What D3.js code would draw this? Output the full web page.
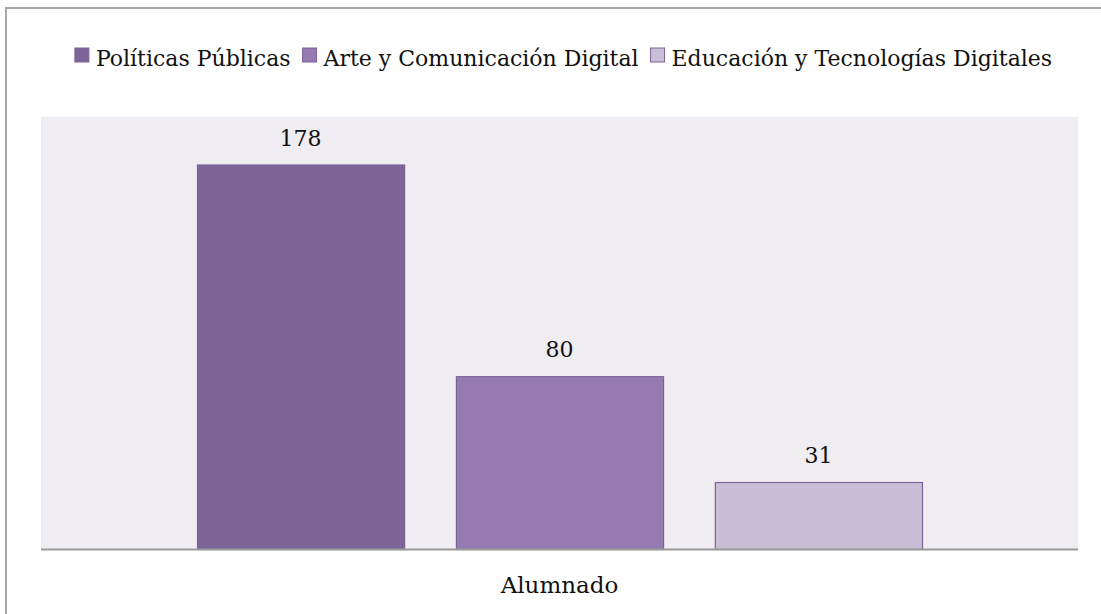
<!DOCTYPE html>
<html>
<head>
<meta charset="utf-8">
<script src="https://cdn.jsdelivr.net/npm/d3@7"></script>
<style>
	body { margin: 0; background: #fff; }
</style>
</head>
<body>
<script>
// data
var series = ["Políticas Públicas", "Arte y Comunicación Digital", "Educación y Tecnologías Digitales"];
var values = [178, 80, 31];
var category = "Alumnado";
var colors = ["#7e6597", "#967bb2", "#c8bfd6"];

var width = 1101,
	height = 614,
	font = "'DejaVu Serif', 'Liberation Serif', serif";

var plot = { left: 41, right: 1078, top: 117, bottom: 549 };

var svg = d3.select("body").append("svg")
	.attr("width", width)
	.attr("height", height)
	.style("font-family", font);

// outer frame
svg.append("rect")
	.attr("x", 6)
	.attr("y", 8)
	.attr("width", width)
	.attr("height", height)
	.attr("fill", "#fff")
	.attr("stroke", "#a6a6a6")
	.attr("stroke-width", 2);

// plot background
svg.append("rect")
	.attr("x", plot.left)
	.attr("y", plot.top)
	.attr("width", plot.right - plot.left)
	.attr("height", plot.bottom - plot.top)
	.attr("fill", "#efecf2");

var x = d3.scaleBand()
	.domain(series)
	.range([plot.left + 156, plot.right - 156])
	.paddingInner(0.2);

var y = d3.scaleLinear()
	.domain([0, 200])
	.range([plot.bottom, plot.top]);

var bars = svg.selectAll(".bar")
	.data(values)
	.enter()
	.append("g")
	.attr("class", "bar");

bars.append("rect")
	.attr("x", function(d, i) { return x(series[i]) + 0.5; })
	.attr("y", function(d) { return y(d) + 0.5; })
	.attr("width", x.bandwidth())
	.attr("height", function(d) { return plot.bottom - y(d); })
	.attr("fill", function(d, i) { return colors[i]; })
	.attr("stroke", "#7a6398")
	.attr("stroke-width", 1.2);

bars.append("text")
	.attr("x", function(d, i) { return x(series[i]) + x.bandwidth() / 2; })
	.attr("y", function(d) { return y(d) - 19; })
	.attr("text-anchor", "middle")
	.attr("font-family", font)
	.attr("font-size", "22px")
	.attr("fill", "#111")
	.text(function(d) { return d; });

// x axis line
svg.append("line")
	.attr("x1", plot.left)
	.attr("x2", plot.right)
	.attr("y1", plot.bottom + 0.5)
	.attr("y2", plot.bottom + 0.5)
	.attr("stroke", "#9a9a9a")
	.attr("stroke-width", 2);

svg.append("text")
	.attr("x", (plot.left + plot.right) / 2)
	.attr("y", 593)
	.attr("text-anchor", "middle")
	.attr("font-family", font)
	.attr("font-size", "23px")
	.attr("fill", "#111")
	.text(category);

// legend, measured then centred
var legend = svg.append("g");
var items = legend.selectAll(".item")
	.data(series)
	.enter()
	.append("g")
	.attr("class", "item");

items.append("rect")
	.attr("y", 48)
	.attr("width", 14)
	.attr("height", 14)
	.attr("fill", function(d, i) { return colors[i]; })
	.attr("stroke", "#7a6398")
	.attr("stroke-width", 1);

items.append("text")
	.attr("x", 21)
	.attr("y", 66)
	.attr("font-family", font)
	.attr("font-size", "22px")
	.attr("fill", "#111")
	.text(function(d) { return d; });

var pos = 0;
items.each(function() {
	var w = d3.select(this).select("text").node().getComputedTextLength();
	d3.select(this).attr("transform", "translate(" + pos + ",0)");
	pos += 21 + w + 12;
});
var total = pos - 12;
legend.attr("transform", "translate(" + (563.5 - total / 2) + ",0)");
</script>
</body>
</html>
